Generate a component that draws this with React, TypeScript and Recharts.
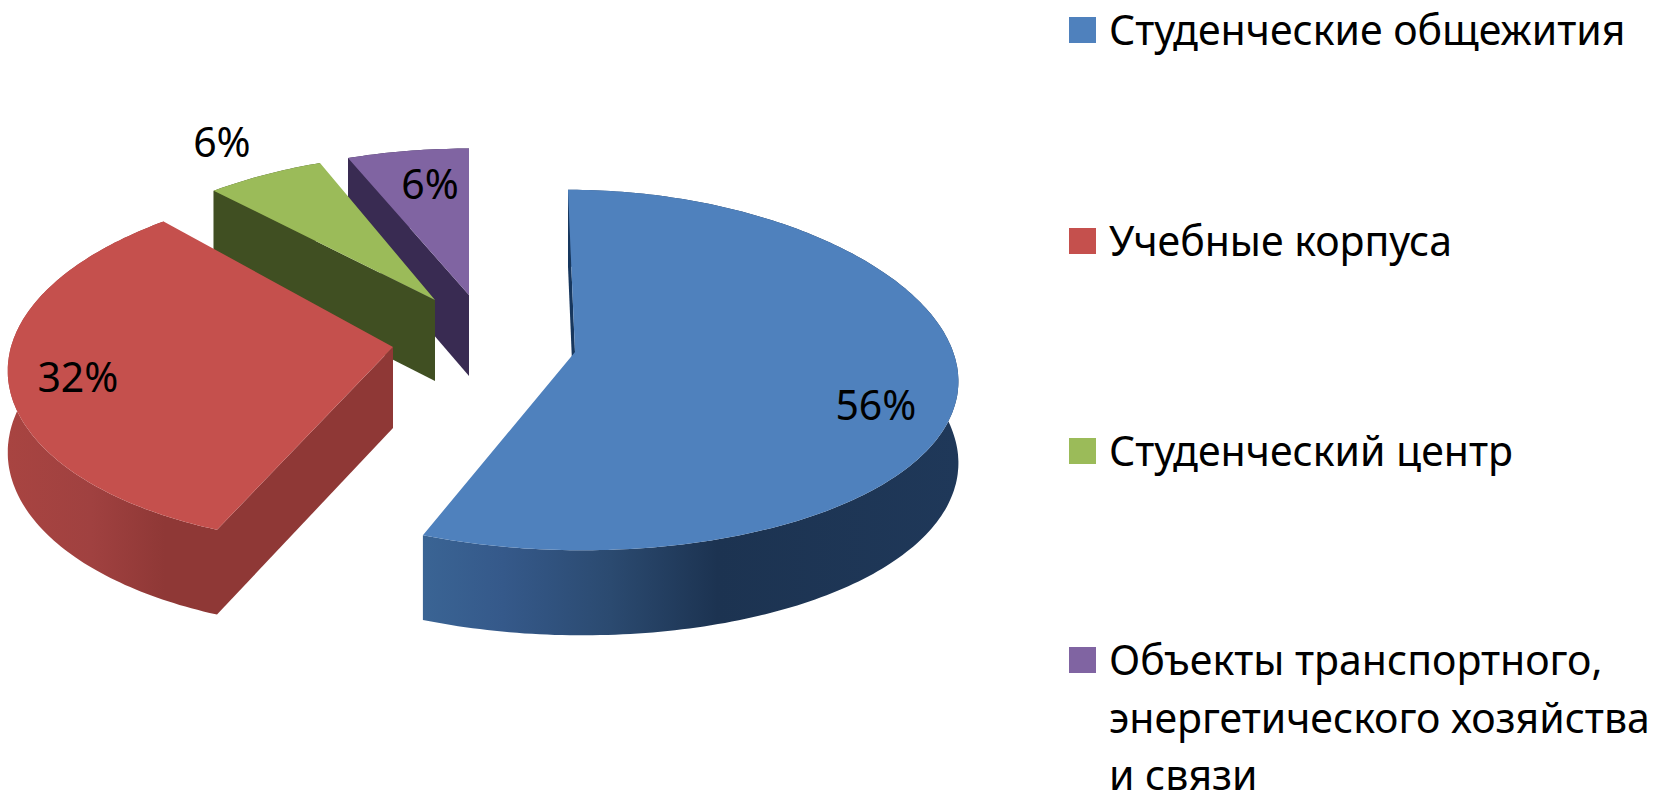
import React from 'react';
import { PieChart, Pie, Legend } from 'recharts';

const categories = ['Студенческие общежития', 'Учебные корпуса', 'Студенческий центр', 'Объекты транспортного, энергетического хозяйства и связи'];
const shares = [56, 32, 6, 6];
const legendLines = [['Студенческие общежития'], ['Учебные корпуса'], ['Студенческий центр'], ['Объекты транспортного,', 'энергетического хозяйства', 'и связи']];

const topColors = ['#4f81bd', '#c5504d', '#9bbb59', '#8064a2'];
const edgeColors = ['#17375e', '#8f3836', '#404f22', '#392b52'];

// drawing order is back to front, so the table runs against the clock from purple to blue
const chartData = categories.map((name, i) => ({ name, value: shares[i], idx: i })).reverse();

const CX = 500;
const CY = 340;
const RADIUS = 382;
const FLATTEN = 0.479;
const DEPTH = 81;

// how far each slice is pulled out of the pie, plus a little per slice perspective fudge
const explode = [
  { dx: 75, dy: 12, skew: 7, sx: 0.99, sy: 0.985, kx: 0.15, ky: 0.1 },
  { dx: -107, dy: 7, skew: -31, sx: 1, sy: 1, kx: 0.05, ky: 0.08 },
  { dx: -65, dy: -40, skew: 0, sx: 0.95, sy: 0.87, kx: 0.15, ky: 0.08 },
  { dx: -31, dy: -45, skew: 0, sx: 1, sy: 0.87, kx: 0.15, ky: 0.08 },
];
const labelSpots = [
  { r: 0.8, dx: -4, dy: 41 },
  { r: 0.8, dx: -8, dy: 17 },
  { r: 1.15, dx: -22, dy: 0 },
  { r: 0.7, dx: 6, dy: 7 },
];

const project = (idx: number, angle: number, r: number, drop = 0) => {
  const e = explode[idx];
  const rad = (angle * Math.PI) / 180;
  const u = Math.cos(rad) * r;
  const v = -Math.sin(rad) * r;
  const x = CX + e.dx + RADIUS * e.sx * u * (1 + e.kx * v) + e.skew * v;
  const y = CY + e.dy + RADIUS * FLATTEN * e.sy * v * (1 + e.ky * v);
  return { x, y: y + drop * DEPTH * (1 + 0.05 * v) };
};

const toPath = (pts: { x: number; y: number }[]) =>
  pts.map((p, i) => `${i ? 'L' : 'M'}${p.x.toFixed(1)},${p.y.toFixed(1)}`).join(' ') + ' Z';

const Slice3D = (props: any) => {
  const { startAngle, endAngle, payload } = props;
  const idx = payload.idx;
  const arc: number[] = [];
  for (let a = startAngle; a < endAngle; a += 1) arc.push(a);
  arc.push(endAngle);
  const top = arc.map((a) => project(idx, a, 1));
  const apex = project(idx, 0, 0);
  const apexLow = project(idx, 0, 0, 1);
  const band = [...top, ...arc.map((a) => project(idx, a, 1, 1)).reverse()];
  const wall = [apex, project(idx, endAngle, 1), project(idx, endAngle, 1, 1), apexLow];
  return (
    <g>
      <path d={toPath(band)} fill={idx < 2 ? `url(#wall${idx})` : edgeColors[idx]} />
      <path d={toPath(wall)} fill={edgeColors[idx]} />
      <path d={toPath([apex, ...top])} fill={topColors[idx]} />
    </g>
  );
};

const renderLabel = (props: any) => {
  const { midAngle, percent, payload } = props;
  const idx = payload.idx ?? props.idx;
  const spot = labelSpots[idx];
  const p = project(idx, midAngle, spot.r);
  return (
    <text x={p.x + spot.dx} y={p.y + spot.dy} textAnchor="middle" fontFamily="'Noto Sans'" fontSize={41} fill="#000">
      {`${Math.round(percent * 100)}%`}
    </text>
  );
};

const rowTops = [17, 228, 438, 647];

const LegendBlock = () => (
  <svg width={598} height={793} style={{ display: 'block' }}>
    {legendLines.map((lines, i) => (
      <g key={i}>
        <rect x={9} y={rowTops[i]} width={27} height={26} fill={topColors[i]} />
        {lines.map((line, j) => (
          <text key={j} x={49} y={rowTops[i] + 28 + j * 57.5} fontFamily="'Noto Sans'" fontSize={41} fill="#000">
            {line}
          </text>
        ))}
      </g>
    ))}
  </svg>
);

export default function App() {
  return (
    <div style={{ position: 'absolute', left: 0, top: 0, width: 1658, height: 793, background: '#fff', overflow: 'hidden' }}>
      <PieChart width={1658} height={793} margin={{ top: 0, right: 0, bottom: 0, left: 0 }}>
        <defs>
          <linearGradient id="wall0" x1="0" y1="0" x2="1" y2="0">
            <stop offset="0" stopColor="#3a6494" />
            <stop offset="0.15" stopColor="#35598a" />
            <stop offset="0.35" stopColor="#2b4a70" />
            <stop offset="0.55" stopColor="#1c3351" />
            <stop offset="1" stopColor="#1f3859" />
          </linearGradient>
          <linearGradient id="wall1" x1="0" y1="0" x2="1" y2="0">
            <stop offset="0" stopColor="#a84441" />
            <stop offset="0.4" stopColor="#a04140" />
            <stop offset="0.75" stopColor="#8f3836" />
            <stop offset="1" stopColor="#8f3836" />
          </linearGradient>
        </defs>
        <Pie
          data={chartData}
          dataKey="value"
          nameKey="name"
          cx={CX}
          cy={CY}
          outerRadius={RADIUS}
          startAngle={90}
          endAngle={450}
          paddingAngle={0}
          stroke="none"
          shape={Slice3D}
          label={renderLabel}
          labelLine={false}
          isAnimationActive={false}
        />
        <Legend content={LegendBlock} wrapperStyle={{ position: 'absolute', left: 1060, top: 0, width: 598, height: 793 }} />
      </PieChart>
    </div>
  );
}
